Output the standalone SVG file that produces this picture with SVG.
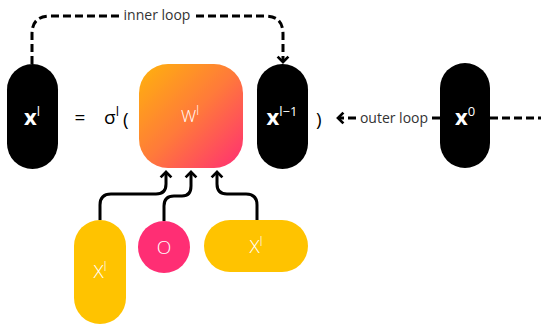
<svg xmlns="http://www.w3.org/2000/svg" width="541" height="331" viewBox="0 0 541 331">
<defs>
<linearGradient id="g" x1="0" y1="0" x2="1" y2="1">
<stop offset="0" stop-color="#FFB30C"/>
<stop offset="0.5" stop-color="#FF7A3A"/>
<stop offset="1" stop-color="#FF2E74"/>
</linearGradient>
<marker id="ah" viewBox="0 0 10 10" refX="5" refY="5" markerWidth="4.5" markerHeight="4.5" orient="auto" markerUnits="strokeWidth">
<path d="M1,1 L5,5 L1,9" fill="none" stroke="#000" stroke-width="2"/>
</marker>
<style>
.pill{fill:#000}
.wt{fill:#fff;font-family:"Open Sans",sans-serif}
.lt{font-weight:300}
.bx{font-weight:bold;font-size:22px}
.sup{font-size:13px}
.lab{fill:#333;font-family:"Open Sans",sans-serif;font-size:14px}
.eq{fill:#000;font-family:"Open Sans",sans-serif;font-size:19px}
.dash{fill:none;stroke:#000;stroke-width:3;stroke-dasharray:8,4}
.solid{fill:none;stroke:#000;stroke-width:3}
.yl{fill:#FFC300}
</style>
</defs>
<g id="connectors">
<path class="dash" d="M32,64 V34 Q32,16 50,16 H120"/>
<path class="dash" d="M196,16 H265 Q283,16 283,34 V62" marker-end="url(#ah)"/>
<path class="dash" d="M440,118 H430"/>
<path class="dash" d="M356,118 H338" marker-end="url(#ah)"/>
<path class="dash" d="M490,118 H541"/>
<path class="solid" d="M100,220 V205 Q100,194 111,194 H156 Q166,194 166,184 V172" marker-end="url(#ah)"/>
<path class="solid" d="M164,221 V206 Q164,196 174,196 H182 Q191,196 191,186 V172" marker-end="url(#ah)"/>
<path class="solid" d="M257,220 V205 Q257,194 246,194 H227 Q217,194 217,184 V172" marker-end="url(#ah)"/>
<text class="lab" x="157" y="20" text-anchor="middle">inner loop</text>
<text class="lab" x="394" y="123" text-anchor="middle">outer loop</text>
</g>
<g id="xl">
<rect class="pill" x="7" y="64" width="51" height="105" rx="25.5"/>
<text class="wt" x="32" y="125" text-anchor="middle"><tspan class="bx">x</tspan><tspan class="sup" dy="-9">l</tspan></text>
</g>
<g id="eq">
<text class="eq" x="80" y="124" text-anchor="middle">=</text>
<text class="eq" x="104" y="124">σ<tspan font-size="13" dy="-8">l</tspan></text>
<text class="eq" x="123" y="126">(</text>
<text class="eq" x="316" y="126">)</text>
</g>
<g id="W">
<rect x="139" y="64" width="104" height="104" rx="29" fill="url(#g)"/>
<text class="wt lt" x="190" y="122" font-size="17" text-anchor="middle">W<tspan font-size="12" dy="-7">l</tspan></text>
</g>
<g id="xl1">
<rect class="pill" x="257" y="64" width="51" height="105" rx="25.5"/>
<text class="wt" x="282" y="125" text-anchor="middle"><tspan class="bx">x</tspan><tspan class="sup" dy="-9">l−1</tspan></text>
</g>
<g id="x0">
<rect class="pill" x="440" y="63" width="50" height="105" rx="25"/>
<text class="wt" x="465" y="125" text-anchor="middle"><tspan class="bx">x</tspan><tspan class="sup" dy="-9">0</tspan></text>
</g>
<g id="Xv">
<rect class="yl" x="74" y="220" width="52" height="104" rx="26"/>
<text class="wt lt" x="100" y="278" font-size="19" text-anchor="middle">X<tspan font-size="12" dy="-7">l</tspan></text>
</g>
<g id="O">
<circle cx="164" cy="247" r="26" fill="#FF2E74"/>
<text class="wt lt" x="164" y="254" font-size="19" text-anchor="middle">O</text>
</g>
<g id="Xh">
<rect class="yl" x="204" y="220" width="104" height="52" rx="26"/>
<text class="wt lt" x="256" y="253" font-size="19" text-anchor="middle">X<tspan font-size="12" dy="-7">l</tspan></text>
</g>
</svg>
